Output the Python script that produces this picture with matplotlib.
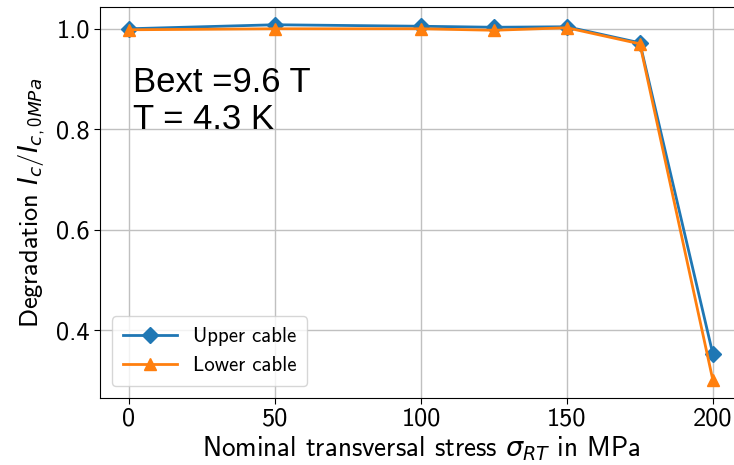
import matplotlib
matplotlib.use("Agg")
import matplotlib.pyplot as plt

# Transversal stress levels and normalised critical current
stress = [0, 50, 100, 125, 150, 175, 200]
upper_cable = [1.000, 1.008, 1.005, 1.003, 1.004, 0.972, 0.352]
lower_cable = [0.998, 1.000, 1.000, 0.997, 1.002, 0.970, 0.300]

plt.rcParams['font.family'] = 'cmss10'
plt.rcParams['axes.unicode_minus'] = False
plt.rcParams['mathtext.fontset'] = 'custom'
plt.rcParams['mathtext.rm'] = 'cmss10'
plt.rcParams['mathtext.it'] = 'DejaVu Sans:italic'

fig = plt.figure(figsize=(7.34, 4.65), dpi=100)
ax = fig.add_axes([0.136, 0.144, 0.875, 0.841])

ax.plot(stress, upper_cable, marker='D', markersize=8, linewidth=2,
        color='#1f77b4', label='Upper cable')
ax.plot(stress, lower_cable, marker='^', markersize=8, linewidth=2,
        color='#ff7f0e', label='Lower cable')

ax.set_xlim(-10, 210)
ax.set_xticks([0, 50, 100, 150, 200])
ax.set_yticks([0.4, 0.6, 0.8, 1.0])
ax.tick_params(labelsize=19, length=4, pad=3)
ax.grid(True, color='#c0c0c0', linewidth=1)
ax.spines['right'].set_visible(False)

ax.set_xlabel(r'Nominal transversal stress $\sigma_{RT}$ in MPa', fontsize=19.5, labelpad=3)
ax.set_ylabel(r'Degradation $I_c/I_{c,0MPa}$', fontsize=19, labelpad=6)

ax.legend(loc='lower left', fontsize=15, borderpad=0.5, handlelength=2.6,
          bbox_to_anchor=(0.003, 0.005))

ax.text(0.052, 0.848, 'Bext =9.6 T\nT = 4.3 K', transform=ax.transAxes,
        family='Liberation Sans', fontsize=25, va='top', linespacing=1.15)

fig.savefig('out.png', dpi=100)
